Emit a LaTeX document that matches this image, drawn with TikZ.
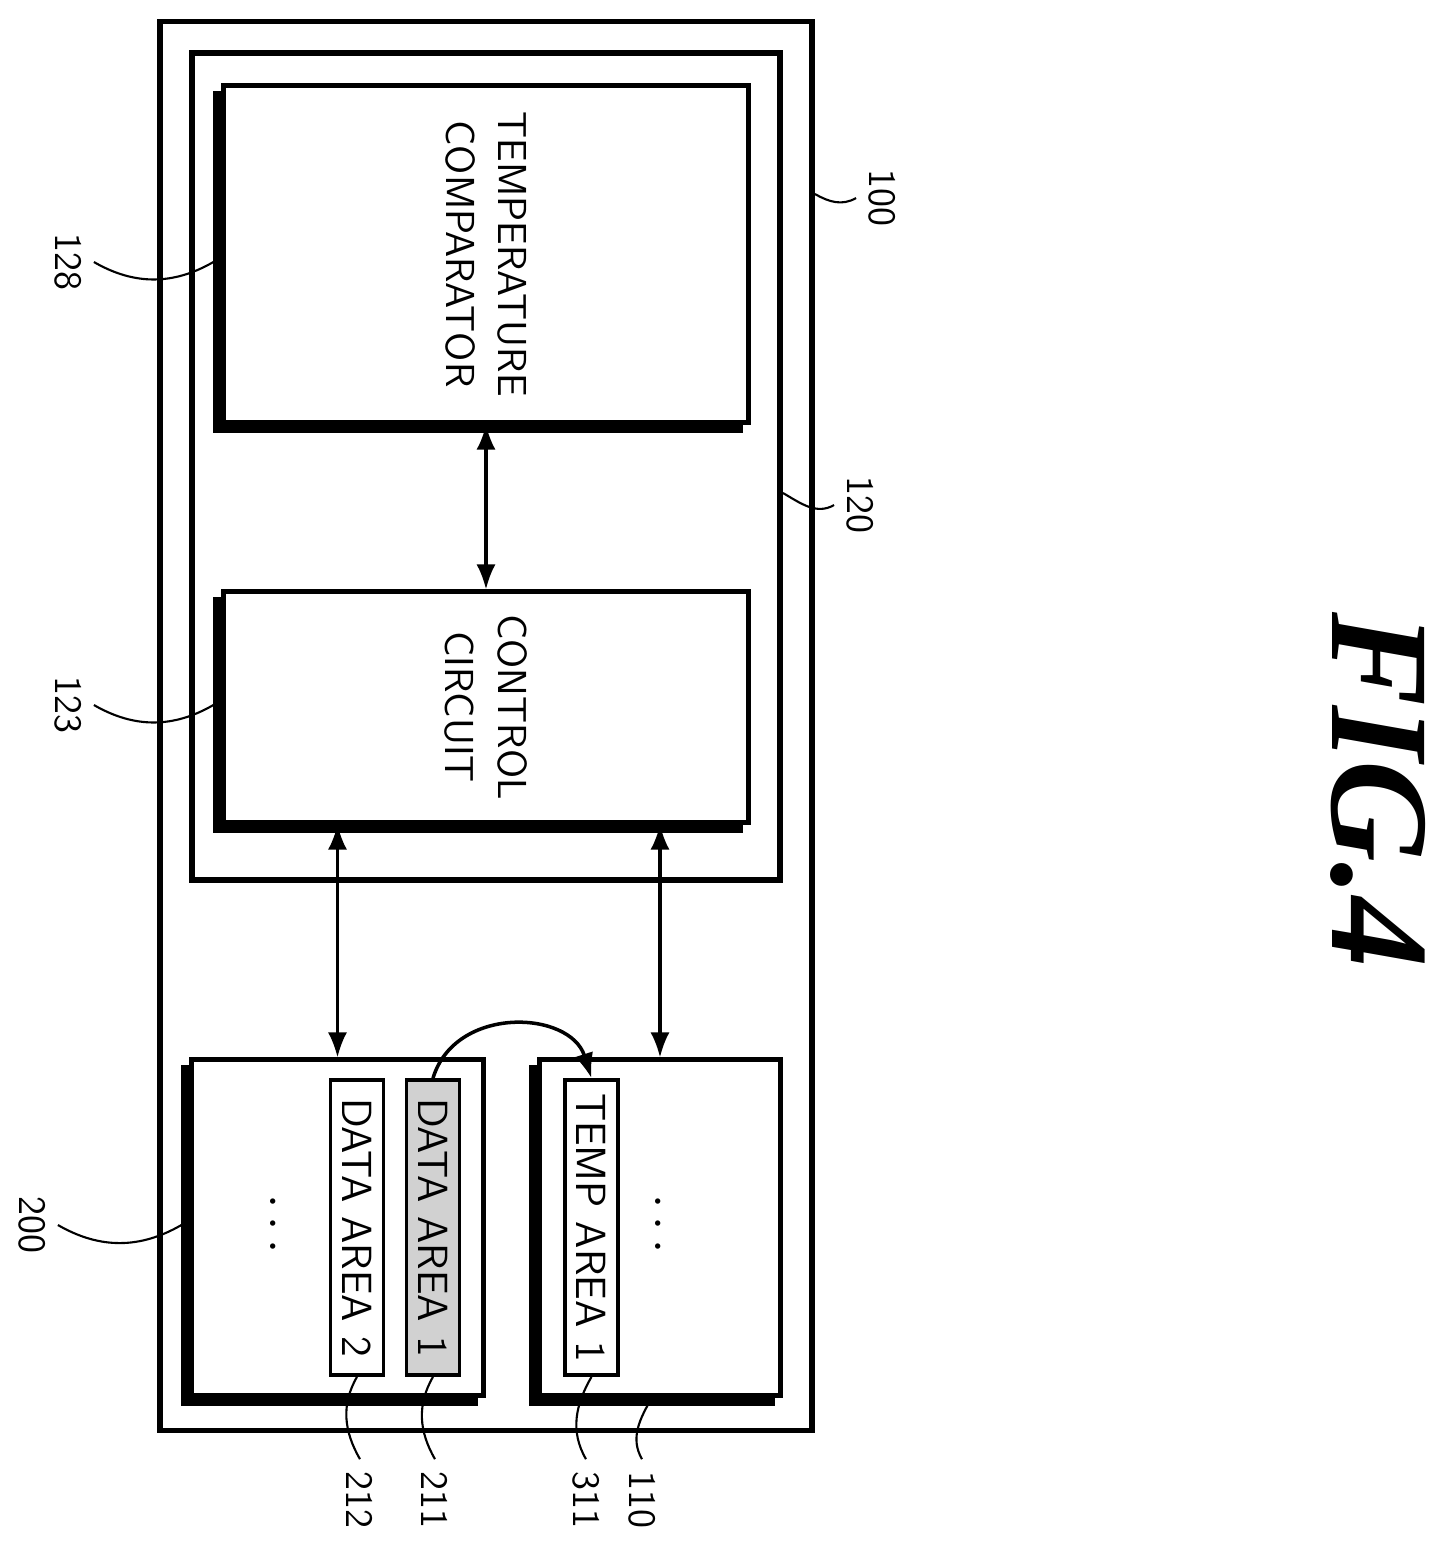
\documentclass[tikz,border=0pt]{standalone}
\usepackage{amsmath}
\usepackage{fontspec}
\usetikzlibrary{arrows, arrows.meta}
\usetikzlibrary{calc}
\usetikzlibrary{backgrounds}
\newfontfamily\figfont{Liberation Serif}

\tikzset{
  blk/.style={draw, line width=1.4pt, fill=white, inner sep=0pt},
  frm/.style={draw, line width=1.6pt, inner sep=0pt},
  area/.style={draw, line width=1pt, fill=white, inner sep=0pt, minimum width=2.95cm, minimum height=0.53cm,
    font=\fontsize{12}{14}\selectfont\sffamily, rotate=-90},
  lbl/.style={rotate=-90, font=\fontsize{11.5}{15}\selectfont\sffamily},
  ref/.style={rotate=-90, font=\fontsize{11}{13}\selectfont\sffamily},
  lead/.style={line width=0.6pt},
  bus/.style={line width=0.9pt, {Latex[length=2.5mm,width=1.9mm]}-{Latex[length=2.5mm,width=1.9mm]}}
}

\begin{document}
\begin{tikzpicture}[x=0.01cm, y=-0.01cm]
  \useasboundingbox (0,0) rectangle (1443,1547);

  \node[frm, minimum width=6.52cm, minimum height=14.08cm] (host) at (486,726) {};
  \node[frm, minimum width=5.88cm, minimum height=8.27cm] (ctrl) at (486,466.5) {};

  \node[blk, minimum width=5.24cm, minimum height=3.36cm] (cmp) at (486,254) {};
  \node[lbl, align=center] at (cmp.center) {TEMPERATURE\\COMPARATOR};
  \node[blk, minimum width=5.24cm, minimum height=2.30cm] (ccirc) at (486,707) {};
  \node[lbl, align=center] at (ccirc.center) {CONTROL\\CIRCUIT};

  \node[blk, minimum width=2.91cm, minimum height=3.35cm] (mem) at (337.5,1227.5) {};
  \node[blk, minimum width=2.40cm, minimum height=3.35cm] (tmp) at (660,1227.5) {};

  % shadows
  \begin{scope}[on background layer]
    \foreach \b in {cmp, ccirc, mem, tmp}
      \fill ($(\b.south west)+(-8,8)$) rectangle ($(\b.north east)+(-8,8)$);
  \end{scope}

  \node[area] (da2) at (357,1227.5) {DATA AREA 2};
  \node[area, fill=black!18] (da1) at (433,1227.5) {DATA AREA 1};
  \node[area] (ta1) at (591.5,1227.5) {TEMP AREA 1};
  \node[font=\Large, rotate=-90] (dots1) at (272,1228) {$\cdots$};
  \node[font=\Large, rotate=-90] (dots2) at (657,1228) {$\cdots$};

  \draw[bus] (cmp.south) -- (ccirc.north);
  \draw[bus] (ccirc.south -| mem.north) -- (mem.north);
  \draw[bus] (ccirc.south -| tmp.north) -- (tmp.north);
  \draw[line width=1pt, -{Latex[length=2.5mm,width=1.9mm]}] (da1.west) .. controls (455,1005) and (570,1010) .. (ta1.west);

  % reference numerals
  \node[ref] (n100) at (882,198) {100};
  \node[ref] (n120) at (860,505) {120};
  \node[ref] (n128) at (68,262) {128};
  \node[ref] (n123) at (68,705) {123};
  \node[ref] (n200) at (32,1225) {200};
  \node[ref] (n212) at (360,1500) {212};
  \node[ref] (n211) at (435,1500) {211};
  \node[ref] (n311) at (586,1500) {311};
  \node[ref] (n110) at (642,1500) {110};

  \draw[lead] (host.east |- n100) ++(0,-4) to[out=-30,in=210] (n100.south);
  \draw[lead] (ctrl.east |- n120) ++(0,-12) to[out=-30,in=210] (n120.south);
  \draw[lead] (n128.north) to[out=-30,in=210] ($(cmp.west |- n128)+(-8,0)$);
  \draw[lead] (n123.north) to[out=-30,in=210] ($(ccirc.west |- n123)+(-8,0)$);
  \draw[lead] (n200.north) to[out=-30,in=210] ($(mem.west |- n200)+(-8,0)$);
  \draw[lead] (da2.east) to[out=-120,in=120] (n212.west);
  \draw[lead] (da1.east) to[out=-120,in=120] (n211.west);
  \draw[lead] (ta1.east) to[out=-120,in=120] (n311.west);
  \draw[lead] ($(tmp.south)+(-8,0)$) to[out=-120,in=120] (n110.west);

  \node[rotate=-90, font=\fontsize{40}{40}\selectfont\figfont\bfseries\itshape] (fig) at (1378,790) {FIG.4};
\end{tikzpicture}
\end{document}
